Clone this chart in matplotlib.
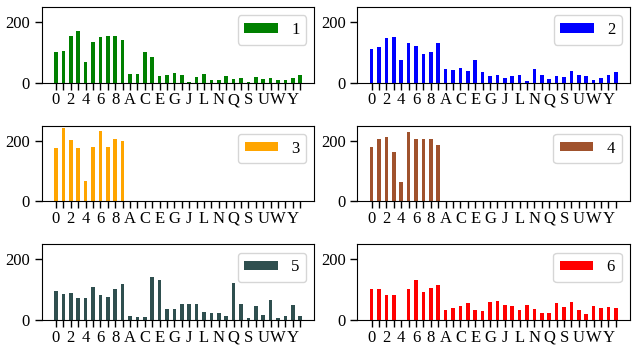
import numpy as np
import matplotlib
matplotlib.use("Agg")
import matplotlib.pyplot as plt

plt.rcParams['font.family'] = ['Liberation Serif', 'DejaVu Serif']

# categories: digits then letters without I and O
categories = list("0123456789ABCDEFGHJKLMNPQRSTUVWXYZ")

series_1 = [100, 105, 155, 169, 67, 133, 152, 155, 155, 142, 29, 29, 102, 86, 22, 26, 33, 26,
            2, 19, 29, 7, 7, 22, 12, 16, 2, 19, 12, 16, 7, 9, 16, 26]
series_2 = [112, 119, 146, 152, 76, 132, 122, 96, 102, 132, 46, 42, 49, 39, 76, 36, 22, 26,
            16, 22, 26, 6, 46, 26, 12, 22, 19, 39, 26, 22, 9, 16, 26, 36]
series_3 = [177, 243, 203, 177, 67, 180, 233, 180, 207, 200] + [0] * 24
series_4 = [180, 207, 213, 163, 63, 230, 207, 207, 207, 187] + [0] * 24
series_5 = [96, 86, 89, 72, 72, 109, 82, 76, 102, 119, 12, 9, 9, 142, 132, 36, 36, 52,
            52, 52, 26, 22, 22, 12, 122, 52, 6, 46, 16, 66, 6, 12, 49, 12]
series_6 = [102, 102, 82, 82, 1, 102, 132, 92, 106, 116, 32, 39, 46, 56, 32, 29, 59, 62,
            49, 46, 32, 49, 36, 22, 22, 56, 42, 59, 32, 19, 46, 39, 42, 39]

all_series = [series_1, series_2, series_3, series_4, series_5, series_6]
names = ["1", "2", "3", "4", "5", "6"]
colors = ["green", "blue", "orange", "sienna", "darkslategray", "red"]

fig, axes = plt.subplots(3, 2, figsize=(6.32, 3.47), dpi=100)
fig.subplots_adjust(left=0.066, right=0.997, top=0.98, bottom=0.078,
                    wspace=0.157, hspace=0.57)

x = np.arange(len(categories))
for ax, vals, name, c in zip(axes.flat, all_series, names, colors):
    ax.bar(x, vals, width=0.5, color=c, label=name)
    ax.set_ylim(0, 250)
    ax.set_yticks([0, 200])
    ax.set_xticks(x)
    ax.set_xticklabels([lab if i % 2 == 0 else "" for i, lab in enumerate(categories)])
    ax.tick_params(axis='both', labelsize=12, length=5, width=1.0)
    ax.tick_params(axis='x', pad=2)
    ax.legend(loc='upper right', fontsize=12, handleheight=0.5)

fig.savefig("out.png")
